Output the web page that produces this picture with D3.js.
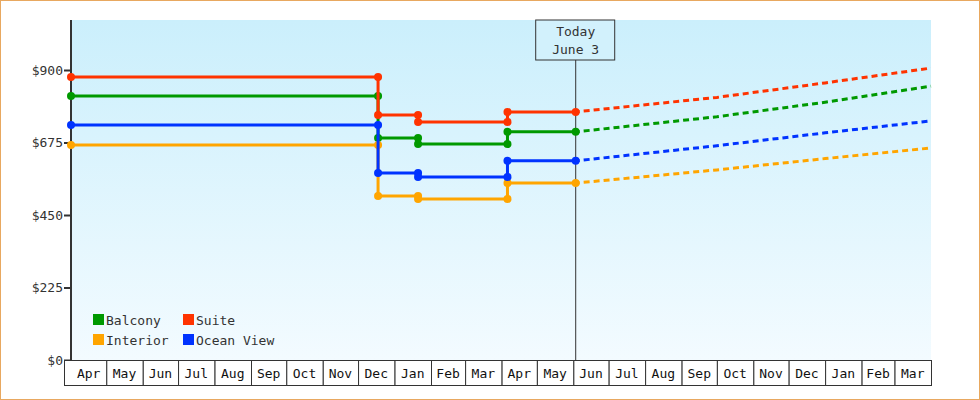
<!DOCTYPE html>
<html><head><meta charset="utf-8">
<script src="https://cdn.jsdelivr.net/npm/d3@7"></script>
<style>body{margin:0;background:#fff}svg{display:block}</style></head>
<body><svg id="c" width="980" height="400"></svg>
<script>
const seriesNames = ["Balcony","Suite","Interior","Ocean View"];
const colors = ["#009900","#ff3300","#ffa500","#0033ff"];
// change dates (history) and values
const changeDates = ["2023-04-01","2023-12-18","2024-01-21","2024-04-06","2024-06-03"];
const balcony = [819,689,670,708];
const suite = [878,760,739,770];
const interior = [667,509,500,549];
const ocean = [729,580,568,618];
// forecast points
const forecastDates = ["2024-06-03","2024-10-01","2025-01-01","2025-04-01"];
const balconyF = [708,755,800,850];
const suiteF = [770,815,860,906];
const interiorF = [549,590,625,658];
const oceanF = [618,665,705,742];
const yTicks = [0,225,450,675,900];
const todayLabel = ["Today","June 3"];

const hist=[balcony,suite,interior,ocean], fc=[balconyF,suiteF,interiorF,oceanF];
const P=d3.timeParse("%Y-%m-%d");
const svg=d3.select("#c");
const L=71,R=931,T=20,B=360;
const x=d3.scaleTime().domain([P("2023-04-01"),P("2025-04-01")]).range([L,R]);
const y=d3.scaleLinear().domain([0,900]).range([B,70]);
const defs=svg.append("defs");
const g=defs.append("linearGradient").attr("id","bg").attr("x1",0).attr("x2",0).attr("y1",0).attr("y2",1);
g.append("stop").attr("offset","0").attr("stop-color","#cbeffc");
g.append("stop").attr("offset","1").attr("stop-color","#f3fbff");
svg.append("rect").attr("x",0.5).attr("y",0.5).attr("width",979).attr("height",399).attr("fill","#fff").attr("stroke","#e8a860");
svg.append("rect").attr("x",L).attr("y",T).attr("width",R-L).attr("height",B-T).attr("fill","url(#bg)");
const font="'DejaVu Sans Mono', monospace";
// today
const tx=x(P("2024-06-03"));
svg.append("line").attr("x1",tx).attr("x2",tx).attr("y1",60).attr("y2",B).attr("stroke","#333");
svg.append("rect").attr("x",tx-40).attr("y",T).attr("width",79).attr("height",40).attr("fill","#d2f1fc").attr("stroke","#333");
todayLabel.forEach((t,i)=>svg.append("text").attr("x",tx).attr("y",T+16+i*18).attr("text-anchor","middle").attr("font-family",font).attr("font-size",13).attr("fill","#333").text(t));
// y axis
const ya=svg.append("g").attr("transform",`translate(${L},0)`).call(d3.axisLeft(y).tickValues(yTicks).tickFormat(d=>"$"+d).tickSize(7).tickSizeOuter(0));
ya.select(".domain").remove();
ya.selectAll("text").attr("font-family",font).attr("font-size",13).attr("fill","#333").attr("dx",2);
ya.selectAll("line").attr("stroke","#333").attr("stroke-width",2);
svg.append("line").attr("x1",L).attr("x2",L).attr("y1",T).attr("y2",B+1).attr("stroke","#333").attr("stroke-width",2);
// x month cells
const months=d3.timeMonth.range(P("2023-04-01"),P("2025-04-01"));
const xg=svg.append("g");
months.forEach((m,i)=>{
  const a=i==0?64:x(m), b=x(d3.timeMonth.offset(m,1));
  xg.append("rect").attr("x",a+0.5).attr("y",B+0.5).attr("width",b-a).attr("height",25).attr("fill","#fff").attr("stroke","#333");
  xg.append("text").attr("x",(x(m)+b)/2).attr("y",B+18).attr("text-anchor","middle").attr("font-family",font).attr("font-size",13).attr("fill","#111").text(d3.timeFormat("%b")(m));
});
// lines
const line=d3.line().x(d=>x(d[0])).y(d=>y(d[1]));
hist.forEach((h,s)=>{
  const pts=[[P(changeDates[0]),h[0]]];
  for(let i=1;i<changeDates.length;i++){
    pts.push([P(changeDates[i]),h[i-1]]);
    if(i<h.length) pts.push([P(changeDates[i]),h[i]]);
  }
  svg.append("path").attr("d",line(pts)).attr("fill","none").attr("stroke",colors[s]).attr("stroke-width",3);
  svg.selectAll(null).data(pts).enter().append("circle").attr("cx",d=>x(d[0])).attr("cy",d=>y(d[1])).attr("r",4).attr("fill",colors[s]);
  const f=fc[s].map((v,i)=>[P(forecastDates[i]),v]);
  svg.append("path").attr("d",line(f)).attr("fill","none").attr("stroke",colors[s]).attr("stroke-width",3).attr("stroke-dasharray","6,4").attr("stroke-dashoffset",-8);
});
// legend
const leg=[[0,93,320],[1,183,320],[2,93,340],[3,183,340]];
leg.forEach(([i,lx,ly])=>{
  svg.append("rect").attr("x",lx).attr("y",ly-6).attr("width",11).attr("height",11).attr("fill",colors[i]);
  svg.append("text").attr("x",lx+13).attr("y",ly+5).attr("font-family",font).attr("font-size",13).attr("fill","#333").text(seriesNames[i]);
});
</script></body></html>
